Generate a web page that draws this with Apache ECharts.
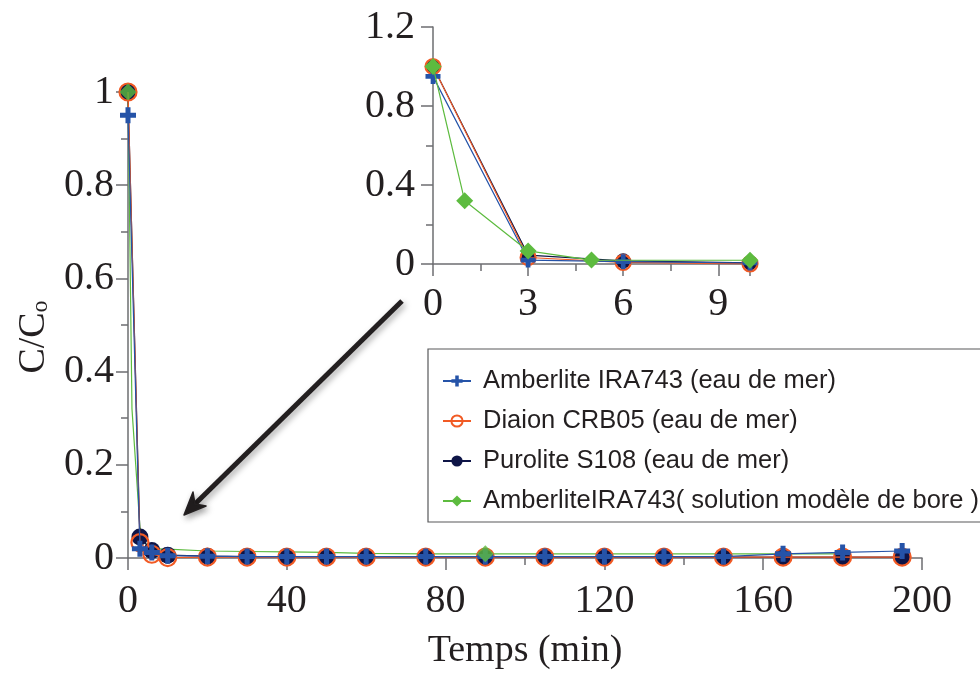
<!DOCTYPE html>
<html>
<head>
<meta charset="utf-8">
<script src="https://cdn.jsdelivr.net/npm/echarts@6/dist/echarts.min.js"></script>
<style>html,body{margin:0;padding:0;background:#fff}#c{width:980px;height:675px}</style>
</head>
<body>
<div id="c"></div>
<script>
// ---- data ----
const seriesNames = ['Amberlite IRA743 (eau de mer)', 'Diaion CRB05 (eau de mer)', 'Purolite S108 (eau de mer)', 'AmberliteIRA743( solution modèle de bore )'];
const timeMain = [0, 3, 6, 10, 20, 30, 40, 50, 60, 75, 90, 105, 120, 135, 150, 165, 180, 195];
const amberlite = [0.95, 0.02, 0.012, 0.005, 0.004, 0.003, 0.003, 0.003, 0.003, 0.003, 0.003, 0.003, 0.003, 0.003, 0.003, 0.009, 0.012, 0.015];
const diaion = [1.0, 0.033, 0.008, 0.001, 0.002, 0.002, 0.002, 0.002, 0.002, 0.002, 0.002, 0.002, 0.002, 0.002, 0.002, 0.002, 0.002, 0.002];
const purolite = [1.0, 0.045, 0.016, 0.006, 0.004, 0.003, 0.003, 0.003, 0.003, 0.002, 0.002, 0.002, 0.002, 0.002, 0.002, 0.002, 0.002, 0.002];
const timeBore = [0, 1, 3, 5, 10, 20, 30, 40, 50, 60, 75, 90, 105, 120, 135, 150, 165, 180];
const bore = [1.0, 0.32, 0.066, 0.02, 0.019, 0.015, 0.014, 0.013, 0.012, 0.01, 0.009, 0.009, 0.009, 0.009, 0.009, 0.009, 0.009, 0.009];
const boreVisibleTimesMain = [0, 90];
const insetMaxTime = 10;
const xTicksMain = {min: 0, max: 200, interval: 40};
const yTicksMain = {min: 0, max: 1, interval: 0.2};
const xTicksInset = {min: 0, max: 10, interval: 3};
const yTicksInset = {min: 0, max: 1.2, interval: 0.4};

// ---- helpers ----
const pairs = (xs, ys) => xs.map((x, i) => [x, ys[i]]);
const upTo = (arr, m) => arr.filter(p => p[0] <= m);
const COL = {blue: '#2553a8', orange: '#f15a24', navy: '#0e1547', green: '#5dbb3f', axis: '#6d6e71', text: '#231f20'};
const PLUS = 'path://M5.5,0H10.5V5.5H16V10.5H10.5V16H5.5V10.5H0V5.5H5.5Z';
const serif = 'Liberation Serif';

function axisCommon(grid, t, labelMargin) {
  return {
    type: 'value', gridIndex: grid, min: t.min, max: t.max, interval: t.interval,
    axisLine: {show: true, lineStyle: {color: COL.axis, width: 1.5}},
    axisTick: {show: true, length: 12, lineStyle: {color: COL.axis, width: 1.5}},
    minorTick: {show: true, splitNumber: 2, length: 7, lineStyle: {color: COL.axis, width: 1.5}},
    splitLine: {show: false},
    axisLabel: {fontFamily: serif, fontSize: 40, color: COL.text, margin: labelMargin}
  };
}

const dA = pairs(timeMain, amberlite), dD = pairs(timeMain, diaion), dP = pairs(timeMain, purolite), dB = pairs(timeBore, bore);

function lineSeries(name, data, grid, color, symbol, size, z, extra) {
  return Object.assign({
    name, type: 'line', data, xAxisIndex: grid, yAxisIndex: grid, z,
    symbol, symbolSize: size, showSymbol: true,
    lineStyle: {color, width: 1.2},
    itemStyle: {color},
    emphasis: {disabled: true}, animation: false
  }, extra || {});
}
const orangeExtra = {itemStyle: {color: 'rgba(255,255,255,0)', borderColor: COL.orange, borderWidth: 2.2}};

const option = {
  backgroundColor: '#fff',
  animation: false,
  grid: [
    {left: 128, top: 92, width: 794, height: 476},
    {left: 433, top: 27, width: 317, height: 237}
  ],
  xAxis: [
    Object.assign(axisCommon(0, xTicksMain, 23), {name: 'Temps (min)', nameLocation: 'middle', nameGap: 74,
      nameTextStyle: {fontFamily: serif, fontSize: 38, color: COL.text}}),
    Object.assign(axisCommon(1, xTicksInset, 20), {axisLabel: {fontFamily: serif, fontSize: 40, color: COL.text, margin: 20, showMaxLabel: false}})
  ],
  yAxis: [
    Object.assign(axisCommon(0, yTicksMain, 14), {name: 'C/C{s|o}', nameLocation: 'middle', nameGap: 72, nameRotate: 90,
      nameTextStyle: {fontFamily: serif, fontSize: 38, color: COL.text, lineHeight: 38, verticalAlign: 'top', padding: [0, 24, 0, 0],
        rich: {s: {fontFamily: serif, fontSize: 24, lineHeight: 24, padding: [20, 0, 0, 0], verticalAlign: 'bottom', color: COL.text}}}}),
    axisCommon(1, yTicksInset, 18)
  ],
  legend: {
    data: seriesNames, orient: 'vertical', left: 428, top: 349,
    padding: [19, 60, 8, 14], itemWidth: 28, itemHeight: 14, itemGap: 14,
    backgroundColor: '#fff', borderColor: '#58595b', borderWidth: 1.2, borderRadius: 0,
    textStyle: {fontFamily: 'Liberation Sans', fontSize: 25.5, lineHeight: 25, color: COL.text, padding: [0, 0, 0, 7]},
    selectedMode: false
  },
  series: [
    // main chart
    lineSeries(seriesNames[3], dB, 0, COL.green, 'diamond', 17, 1, {showSymbol: false}),
    lineSeries(seriesNames[2], dP, 0, COL.navy, 'circle', 17, 2),
    lineSeries(seriesNames[1], dD, 0, COL.orange, 'circle', 17, 3, orangeExtra),
    lineSeries(seriesNames[0], dA, 0, COL.blue, PLUS, 16, 4),
    {name: seriesNames[3], type: 'scatter', xAxisIndex: 0, yAxisIndex: 0, z: 5,
      data: dB.filter(p => boreVisibleTimesMain.includes(p[0])), symbol: 'diamond', symbolSize: 17,
      itemStyle: {color: COL.green}, emphasis: {disabled: true}, animation: false},
    // inset
    lineSeries(seriesNames[2], upTo(dP, insetMaxTime), 1, COL.navy, 'circle', 15, 2),
    lineSeries(seriesNames[1], upTo(dD, insetMaxTime), 1, COL.orange, 'circle', 15, 3, orangeExtra),
    lineSeries(seriesNames[0], upTo(dA, insetMaxTime), 1, COL.blue, PLUS, 15, 4),
    lineSeries(seriesNames[3], upTo(dB, insetMaxTime), 1, COL.green, 'diamond', 17, 5)
  ],
  graphic: [
    {type: 'line', z: 100, shape: {x1: 402, y1: 301, x2: 195, y2: 504},
      style: {stroke: '#231f20', lineWidth: 5, shadowBlur: 6, shadowColor: 'rgba(0,0,0,0.35)', shadowOffsetX: 2, shadowOffsetY: 3}},
    {type: 'polygon', z: 100, shape: {points: [[184, 515], [193, 492], [195, 504], [206, 506]]},
      style: {fill: '#231f20', stroke: '#231f20', lineWidth: 1.5, lineJoin: 'round', shadowBlur: 6, shadowColor: 'rgba(0,0,0,0.35)', shadowOffsetX: 2, shadowOffsetY: 3}}
  ]
};
const chart = echarts.init(document.getElementById('c'), null, {renderer: 'canvas'});
chart.setOption(option);
</script>
</body>
</html>
